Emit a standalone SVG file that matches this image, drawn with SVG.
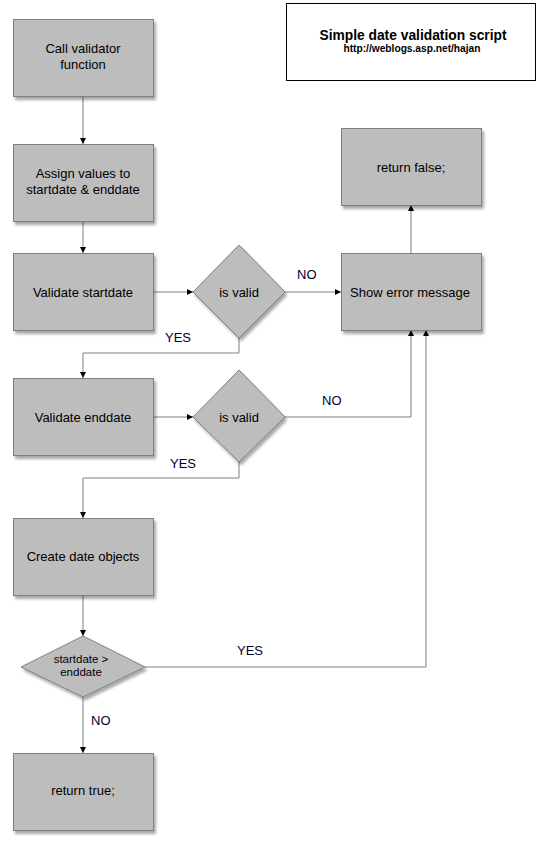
<svg xmlns="http://www.w3.org/2000/svg" width="553" height="852" viewBox="0 0 553 852">
<defs>
<filter id="sh" x="-10%" y="-10%" width="130%" height="130%">
<feGaussianBlur in="SourceAlpha" stdDeviation="1.5"/>
<feOffset dx="2" dy="3" result="b"/>
<feComponentTransfer><feFuncA type="linear" slope="0.35"/></feComponentTransfer>
<feMerge><feMergeNode/><feMergeNode in="SourceGraphic"/></feMerge>
</filter>
<marker id="ah" viewBox="0 0 10 10" refX="10" refY="5" markerWidth="6" markerHeight="6" orient="auto" markerUnits="userSpaceOnUse">
<path d="M0,0 L10,5 L0,10 z" fill="#000"/>
</marker>
</defs>
<style>
.box{fill:#bdbdbd;stroke:#7f7f7f;stroke-width:1;filter:url(#sh)}
.t{font-family:"Liberation Sans",Arial,sans-serif;font-size:13px;fill:#000;text-anchor:middle}
.s{font-size:11.5px}
.lbl{font-family:"Liberation Sans",Arial,sans-serif;font-size:13px;fill:#000033}
.c{fill:none;stroke:#808080;stroke-width:1}
.a{marker-end:url(#ah)}
</style>
<rect width="553" height="852" fill="#fff"/>
<g id="title">
<rect x="286.5" y="3.5" width="249" height="77" fill="#fff" stroke="#000" stroke-width="1"/>
<text x="413" y="40" class="t" style="font-weight:bold;font-size:13.8px">Simple date validation script</text>
<text x="412" y="52" class="t" style="font-weight:bold;font-size:10.2px">http://weblogs.asp.net/hajan</text>
</g>
<g id="connectors">
<path class="c a" d="M83,97 V144"/>
<path class="c a" d="M83,221 V253"/>
<path class="c a" d="M153,292 H193"/>
<path class="c a" d="M285,292 H341"/>
<path class="c a" d="M411,253 V205"/>
<path class="c a" d="M239,338 V353 H83 V378"/>
<path class="c a" d="M153,417 H193"/>
<path class="c a" d="M285,417 H411 V330"/>
<path class="c a" d="M239,462 V478 H83 V518"/>
<path class="c a" d="M83,595 V636"/>
<path class="c a" d="M145,667 H426 V330"/>
<path class="c a" d="M83,697 V753"/>
<text class="lbl" x="297" y="279">NO</text>
<text class="lbl" x="165" y="342">YES</text>
<text class="lbl" x="322" y="405">NO</text>
<text class="lbl" x="170" y="468">YES</text>
<text class="lbl" x="237" y="655">YES</text>
<text class="lbl" x="91" y="725">NO</text>
</g>
<g id="n1"><rect class="box" x="13.5" y="19.5" width="140" height="77"/><text class="t" x="83" y="53">Call validator</text><text class="t" x="83" y="69">function</text></g>
<g id="n2"><rect class="box" x="13.5" y="144.5" width="140" height="77"/><text class="t" x="83" y="178">Assign values to</text><text class="t" x="83" y="194">startdate &amp; enddate</text></g>
<g id="n3"><rect class="box" x="13.5" y="253.5" width="140" height="77"/><text class="t" x="83" y="297">Validate startdate</text></g>
<g id="d1"><polygon class="box" points="239,245 285,292 239,338 193,292"/><text class="t" x="239" y="297">is valid</text></g>
<g id="n4"><rect class="box" x="341.5" y="253.5" width="140" height="77"/><text class="t" x="410" y="297">Show error message</text></g>
<g id="n5"><rect class="box" x="341.5" y="128.5" width="140" height="77"/><text class="t" x="411" y="172">return false;</text></g>
<g id="n6"><rect class="box" x="13.5" y="378.5" width="140" height="77"/><text class="t" x="83" y="422">Validate enddate</text></g>
<g id="d2"><polygon class="box" points="239,370 285,417 239,462 193,417"/><text class="t" x="239" y="422">is valid</text></g>
<g id="n7"><rect class="box" x="13.5" y="518.5" width="140" height="77"/><text class="t" x="83" y="561">Create date objects</text></g>
<g id="d3"><polygon class="box" points="83,636 145,667 83,697 21,667"/><text class="t s" x="81" y="663">startdate &gt;</text><text class="t s" x="81" y="676">enddate</text></g>
<g id="n8"><rect class="box" x="13.5" y="753.5" width="140" height="77"/><text class="t" x="83" y="795">return true;</text></g>
</svg>
